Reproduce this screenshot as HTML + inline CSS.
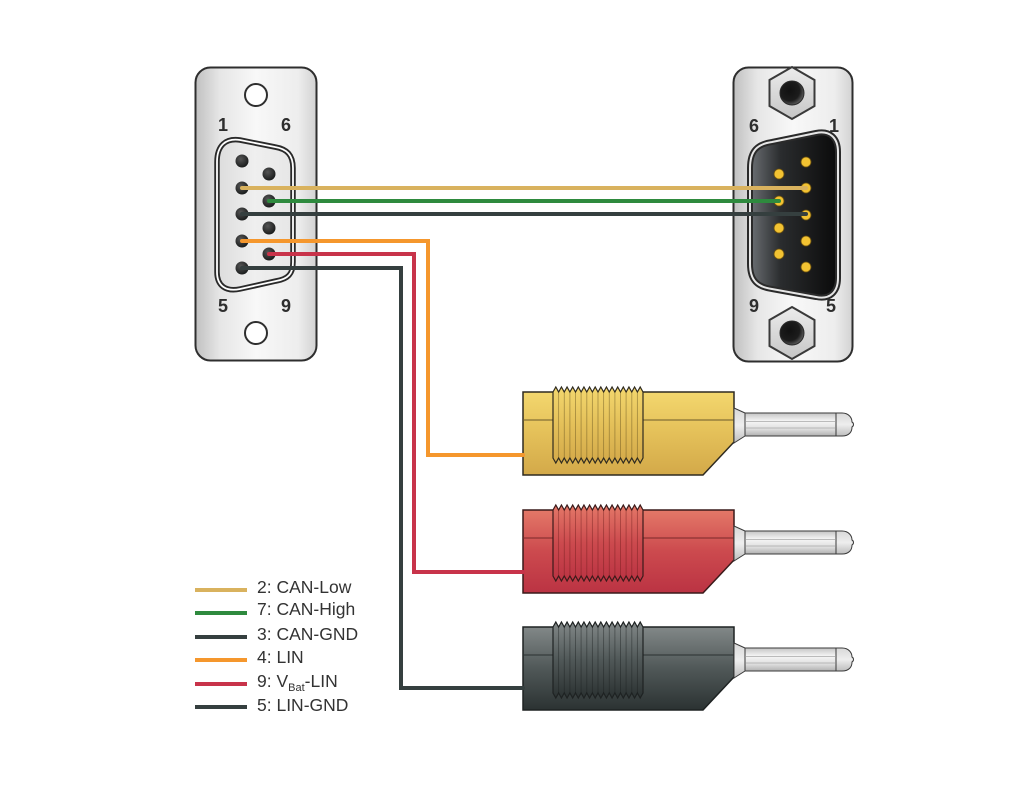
<!DOCTYPE html>
<html><head><meta charset="utf-8"><style>
html,body{margin:0;padding:0;background:#fff;}
svg{display:block;}
text{font-family:"Liberation Sans",sans-serif;}
</style></head><body>
<svg width="1024" height="806" viewBox="0 0 1024 806" xmlns="http://www.w3.org/2000/svg">
<defs>
<linearGradient id="plate" x1="0" y1="0" x2="1" y2="0">
<stop offset="0" stop-color="#c0c0c0"/><stop offset="0.2" stop-color="#e6e6e6"/><stop offset="0.5" stop-color="#f8f8f8"/><stop offset="0.85" stop-color="#ededed"/><stop offset="1" stop-color="#d2d2d2"/>
</linearGradient>
<linearGradient id="shellF" x1="0" y1="0" x2="1" y2="0">
<stop offset="0" stop-color="#dcdcdc"/><stop offset="0.5" stop-color="#efefef"/><stop offset="1" stop-color="#e6e6e6"/>
</linearGradient>
<linearGradient id="male" x1="0" y1="0" x2="1" y2="0">
<stop offset="0" stop-color="#6c7074"/><stop offset="0.35" stop-color="#2a2c2e"/><stop offset="1" stop-color="#0a0a0a"/>
</linearGradient>
<linearGradient id="hex" x1="0" y1="0" x2="0" y2="1">
<stop offset="0" stop-color="#ececec"/><stop offset="1" stop-color="#c6c6c6"/>
</linearGradient>
<radialGradient id="hole" cx="0.4" cy="0.4" r="0.6">
<stop offset="0" stop-color="#111"/><stop offset="0.7" stop-color="#1c1c1c"/><stop offset="1" stop-color="#555"/>
</radialGradient>
<radialGradient id="fpin" cx="0.4" cy="0.35" r="0.7">
<stop offset="0" stop-color="#555"/><stop offset="1" stop-color="#161818"/>
</radialGradient>
<linearGradient id="gy" x1="0" y1="0" x2="0" y2="1">
<stop offset="0" stop-color="#f3d76e"/><stop offset="0.5" stop-color="#e4c059"/><stop offset="1" stop-color="#d3a949"/>
</linearGradient>
<linearGradient id="gr" x1="0" y1="0" x2="0" y2="1">
<stop offset="0" stop-color="#e47868"/><stop offset="0.5" stop-color="#cc4a4e"/><stop offset="1" stop-color="#bb3343"/>
</linearGradient>
<linearGradient id="gk" x1="0" y1="0" x2="0" y2="1">
<stop offset="0" stop-color="#828888"/><stop offset="0.5" stop-color="#505858"/><stop offset="1" stop-color="#2b3232"/>
</linearGradient>
<linearGradient id="shaft" x1="0" y1="0" x2="0" y2="1">
<stop offset="0" stop-color="#c4c4c4"/><stop offset="0.35" stop-color="#f6f6f6"/><stop offset="0.7" stop-color="#dedede"/><stop offset="1" stop-color="#b0b0b0"/>
</linearGradient>
<linearGradient id="neck" x1="0" y1="0" x2="0" y2="1">
<stop offset="0" stop-color="#d8d8d8"/><stop offset="0.5" stop-color="#eeeeee"/><stop offset="1" stop-color="#bdbdbd"/>
</linearGradient>

<g id="thread">
<path d="M553,0 L555.81,-5 L558.63,0 L561.44,-5 L564.25,0 L567.06,-5 L569.88,0 L572.69,-5 L575.5,0 L578.31,-5 L581.13,0 L583.94,-5 L586.75,0 L589.56,-5 L592.38,0 L595.19,-5 L598,0 L600.81,-5 L603.63,0 L606.44,-5 L609.25,0 L612.06,-5 L614.88,0 L617.69,-5 L620.5,0 L623.31,-5 L626.13,0 L628.94,-5 L631.75,0 L634.56,-5 L637.38,0 L640.19,-5 L643,0 L643,66 L640.19,71 L637.38,66 L634.56,71 L631.75,66 L628.94,71 L626.13,66 L623.31,71 L620.5,66 L617.69,71 L614.88,66 L612.06,71 L609.25,66 L606.44,71 L603.63,66 L600.81,71 L598,66 L595.19,71 L592.38,66 L589.56,71 L586.75,66 L583.94,71 L581.13,66 L578.31,71 L575.5,66 L572.69,71 L569.88,66 L567.06,71 L564.25,66 L561.44,71 L558.63,66 L555.81,71 L553,66 Z"/>
</g>
<g id="ribs" stroke-width="0.9" stroke-opacity="0.45">
<path d="M558.6,0V66 M564.3,0V66 M569.9,0V66 M575.5,0V66 M581.1,0V66 M586.8,0V66 M592.4,0V66 M598,0V66 M603.6,0V66 M609.3,0V66 M614.9,0V66 M620.5,0V66 M626.1,0V66 M631.8,0V66 M637.4,0V66"/>
</g>
<g id="pin">
<path d="M734,16 L745,21 L745,44 L734,51 Z" fill="url(#neck)" stroke="#3a3a3a" stroke-width="1"/>
<rect x="745" y="21" width="91" height="23" fill="url(#shaft)" stroke="#3a3a3a" stroke-width="1"/>
<path d="M746,29.5 H835 M746,36 H835" stroke="#a8a8a8" stroke-width="0.8"/>
<path d="M836,21 L842,21 C849,21 852,26 852,30 C854,31 854,34 852,35 C852,40 849,44 842,44 L836,44 Z" fill="url(#neck)" stroke="#3a3a3a" stroke-width="1"/>
</g>
</defs>

<rect width="1024" height="806" fill="#fff"/>

<!-- LEFT (female) connector -->
<rect x="195.5" y="67.5" width="121" height="293" rx="15" fill="url(#plate)" stroke="#2e2e2e" stroke-width="2"/>
<circle cx="256" cy="95" r="11" fill="#fff" stroke="#2e2e2e" stroke-width="2"/>
<circle cx="256" cy="333" r="11" fill="#fff" stroke="#2e2e2e" stroke-width="2"/>
<path d="M217,162 C217,145 226,138 240,140 L275,147 C287,149 293,155 293,168 L293,262 C293,274 288,279 276,281 L240,289 C226,292 217,286 217,272 Z" fill="url(#shellF)" stroke="#2a2a2a" stroke-width="5.5"/>
<path d="M217,162 C217,145 226,138 240,140 L275,147 C287,149 293,155 293,168 L293,262 C293,274 288,279 276,281 L240,289 C226,292 217,286 217,272 Z" fill="none" stroke="#ffffff" stroke-width="1.8"/>
<g fill="url(#fpin)">
<circle cx="242" cy="161" r="6.5"/><circle cx="242" cy="188" r="6.5"/><circle cx="242" cy="214" r="6.5"/><circle cx="242" cy="241" r="6.5"/><circle cx="242" cy="268" r="6.5"/>
<circle cx="269" cy="174" r="6.5"/><circle cx="269" cy="201" r="6.5"/><circle cx="269" cy="228" r="6.5"/><circle cx="269" cy="254" r="6.5"/>
</g>
<g font-weight="bold" font-size="18" fill="#2e2e2e" text-anchor="middle">
<text x="223" y="131">1</text><text x="286" y="131">6</text>
<text x="223" y="312">5</text><text x="286" y="312">9</text>
</g>

<!-- RIGHT (male) connector -->
<rect x="733.5" y="67.5" width="119" height="294" rx="15" fill="url(#plate)" stroke="#2e2e2e" stroke-width="2"/>
<polygon points="792,67 814.5,80 814.5,106 792,119 769.5,106 769.5,80" fill="url(#hex)" stroke="#3a3a3a" stroke-width="2"/>
<circle cx="792" cy="93" r="12" fill="url(#hole)" stroke="#2a2a2a" stroke-width="1"/>
<polygon points="792,307 814.5,320 814.5,346 792,359 769.5,346 769.5,320" fill="url(#hex)" stroke="#3a3a3a" stroke-width="2"/>
<circle cx="792" cy="333" r="12" fill="url(#hole)" stroke="#2a2a2a" stroke-width="1"/>
<path d="M750,168 C750,150 758,144 772,142 L816,133 C830,130 838,138 838,152 L838,278 C838,292 830,300 816,297 L772,289 C758,287 750,281 750,264 Z" fill="url(#male)" stroke="#2a2a2a" stroke-width="6"/>
<path d="M750,168 C750,150 758,144 772,142 L816,133 C830,130 838,138 838,152 L838,278 C838,292 830,300 816,297 L772,289 C758,287 750,281 750,264 Z" fill="none" stroke="#e6e6e6" stroke-width="2"/>
<g fill="#f2c232" stroke="#6a5010" stroke-width="0.8">
<circle cx="806" cy="162" r="5"/><circle cx="806" cy="188" r="5"/><circle cx="806" cy="215" r="5"/><circle cx="806" cy="241" r="5"/><circle cx="806" cy="267" r="5"/>
<circle cx="779" cy="174" r="5"/><circle cx="779" cy="201" r="5"/><circle cx="779" cy="228" r="5"/><circle cx="779" cy="254" r="5"/>
</g>
<g font-weight="bold" font-size="18" fill="#2e2e2e" text-anchor="middle">
<text x="754" y="132">6</text><text x="834" y="132">1</text>
<text x="754" y="312">9</text><text x="831" y="312">5</text>
</g>

<!-- PLUGS -->
<g transform="translate(0,392)">
<path d="M523,0 H734 V50 L703,83 H523 Z" fill="url(#gy)" stroke="#2e2a20" stroke-width="1.5"/>
<line x1="523" y1="28" x2="734" y2="28" stroke="#6a5a2a" stroke-width="1"/>
<use href="#thread" fill="url(#gy)" stroke="#2e2a20" stroke-width="1.2"/>
<use href="#ribs" stroke="#5a4a1a"/>
<use href="#pin"/>
</g>
<g transform="translate(0,510)">
<path d="M523,0 H734 V50 L703,83 H523 Z" fill="url(#gr)" stroke="#3a1a1a" stroke-width="1.5"/>
<line x1="523" y1="28" x2="734" y2="28" stroke="#7a2828" stroke-width="1"/>
<use href="#thread" fill="url(#gr)" stroke="#3a1a1a" stroke-width="1.2"/>
<use href="#ribs" stroke="#6a1a1a"/>
<use href="#pin"/>
</g>
<g transform="translate(0,627)">
<path d="M523,0 H734 V50 L703,83 H523 Z" fill="url(#gk)" stroke="#1e2222" stroke-width="1.5"/>
<line x1="523" y1="28" x2="734" y2="28" stroke="#2a3030" stroke-width="1"/>
<use href="#thread" fill="url(#gk)" stroke="#1e2222" stroke-width="1.2"/>
<use href="#ribs" stroke="#1a1e1e"/>
<use href="#pin"/>
</g>

<!-- WIRES -->
<g fill="none" stroke-width="4" stroke-linecap="round" stroke-linejoin="miter">
<path d="M242,188 H806" stroke="#d9b25e"/>
<path d="M269,201 H779" stroke="#2e8a3e"/>
<path d="M242,214 H806" stroke="#353f3f"/>
<path d="M242,241 H428 V455 H523" stroke="#f5972d"/>
<path d="M269,254 H414 V572 H523" stroke="#c8334a"/>
<path d="M242,268 H401 V688 H523" stroke="#353f3f"/>
</g>

<!-- LEGEND -->
<g stroke-width="4">
<line x1="195" y1="590" x2="247" y2="590" stroke="#d9b25e"/>
<line x1="195" y1="613" x2="247" y2="613" stroke="#2e8a3e"/>
<line x1="195" y1="637" x2="247" y2="637" stroke="#353f3f"/>
<line x1="195" y1="660" x2="247" y2="660" stroke="#f5972d"/>
<line x1="195" y1="684" x2="247" y2="684" stroke="#c8334a"/>
<line x1="195" y1="707" x2="247" y2="707" stroke="#353f3f"/>
</g>
<g font-size="17.5" fill="#333">
<text x="257" y="593">2: CAN-Low</text>
<text x="257" y="615">7: CAN-High</text>
<text x="257" y="640">3: CAN-GND</text>
<text x="257" y="663">4: LIN</text>
<text x="257" y="687">9: V<tspan font-size="11" dy="4">Bat</tspan><tspan dy="-4">-LIN</tspan></text>
<text x="257" y="711">5: LIN-GND</text>
</g>
</svg>
</body></html>
